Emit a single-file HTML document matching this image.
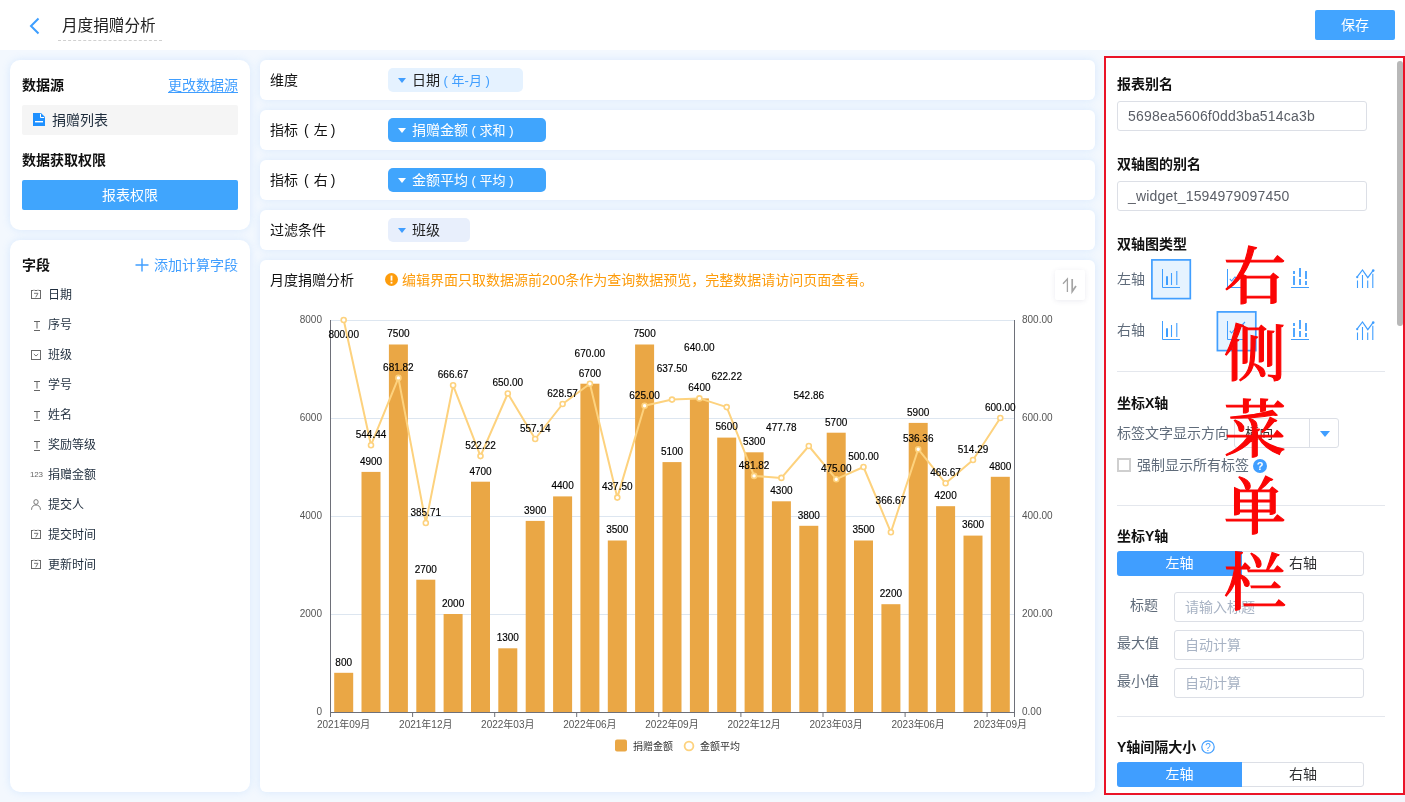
<!DOCTYPE html>
<html lang="zh-CN">
<head>
<meta charset="utf-8">
<title>月度捐赠分析</title>
<style>
*{box-sizing:border-box;margin:0;padding:0}
html,body{width:1405px;height:802px;overflow:hidden}
body{background:#f3f8fe;font-family:"Liberation Sans","Noto Sans CJK SC",sans-serif;font-size:14px;color:#1f2d3d;position:relative}
.abs{position:absolute}
.hdr{position:absolute;left:0;top:0;width:1405px;height:50px;background:#fff}
.card{position:absolute;background:#fff;border-radius:10px;box-shadow:0 0 9px rgba(110,175,250,.2)}
.row{position:absolute;left:260px;width:835px;height:40px;background:#fff;border-radius:6px;box-shadow:0 0 9px rgba(110,175,250,.2)}
.t{position:absolute;white-space:nowrap;line-height:20px;height:20px}
.b{font-weight:700;color:#111}
.blue{color:#409eff}
.tag{position:absolute;height:24px;border-radius:5px;top:8px;left:128px}
.tag .car{position:absolute;left:10px;top:10px;width:0;height:0;border-left:4px solid transparent;border-right:4px solid transparent;border-top:5px solid #409eff}
.tag .tx{position:absolute;left:24px;top:2px;line-height:20px;white-space:nowrap;font-size:14px}
.fld{position:absolute;left:48px;font-size:12px;line-height:20px;color:#1f2d3d;white-space:nowrap}
.ico{position:absolute}
.inp{position:absolute;background:#fff;border:1px solid #dcdfe6;border-radius:3px}
.inp span{position:absolute;left:10px;top:4px;line-height:20px;font-size:14px;letter-spacing:.2px;color:#5a5e66;white-space:nowrap}
.ph span{color:#a8b3c4;font-size:14px;left:10px;letter-spacing:0}
.div{position:absolute;left:1117px;width:268px;height:1px;background:#e4e7ed}
.seg{position:absolute;left:1117px;width:247px;height:25px;border:1px solid #dcdfe6;border-radius:3px;background:#fff}
.seg .l{position:absolute;left:-1px;top:-1px;width:125px;height:25px;background:#409eff;border-radius:3px 0 0 3px;color:#fff;text-align:center;line-height:25px;font-size:14px}
.seg .r{position:absolute;left:124px;top:-1px;width:122px;height:25px;text-align:center;line-height:25px;font-size:14px;color:#303133}
.gl{color:#5f6b7a}
.red{position:absolute;left:1223px;width:64px;text-align:center;font-family:"Liberation Serif","Noto Serif CJK SC",serif;font-weight:500;font-size:62px;line-height:76.5px;color:#fb0505;-webkit-text-stroke:1.1px #fb0505}
</style>
</head>
<body>
<!-- header -->
<div class="hdr">
  <svg class="abs" style="left:28px;top:17px" width="14" height="18" viewBox="0 0 14 18"><path d="M10.5 1.5 L3 9 L10.5 16.5" fill="none" stroke="#3d9eff" stroke-width="2"/></svg>
  <div class="t" style="left:62px;top:16px;font-size:15.6px;color:#222">月度捐赠分析</div>
  <div class="abs" style="left:58px;top:40px;width:104px;border-top:1px dashed #d0d0d0"></div>
  <div class="abs" style="left:1315px;top:10px;width:80px;height:30px;background:#42a4ff;border-radius:2px;color:#fff;text-align:center;line-height:30px;font-size:14px">保存</div>
</div>

<!-- left: datasource -->
<div class="card" style="left:10px;top:60px;width:240px;height:170px"></div>
<div class="t b" style="left:22px;top:75px">数据源</div>
<div class="t blue" style="left:168px;top:75px;text-decoration:underline;text-underline-offset:2px;text-decoration-thickness:1px">更改数据源</div>
<div class="abs" style="left:22px;top:105px;width:216px;height:30px;background:#f5f5f5;border-radius:2px"></div>
<svg class="abs" style="left:33px;top:113px" width="12" height="13" viewBox="0 0 12 13"><path d="M0 0H8L12 4V13H0Z" fill="#1e90ff"/><path d="M7.5 0.8V4.5H11.2" fill="none" stroke="#fff" stroke-width="1"/><rect x="2" y="8" width="8" height="1.4" fill="#fff"/></svg>
<div class="t" style="left:52px;top:110px;color:#1f2d3d">捐赠列表</div>
<div class="t b" style="left:22px;top:150px">数据获取权限</div>
<div class="abs" style="left:22px;top:180px;width:216px;height:30px;background:#40a5fd;border-radius:2px;color:#fff;text-align:center;line-height:30px;font-size:14px">报表权限</div>

<!-- left: fields -->
<div class="card" style="left:10px;top:240px;width:240px;height:552px"></div>
<div class="t b" style="left:22px;top:255px">字段</div>
<svg class="abs" style="left:135px;top:258px" width="14" height="14" viewBox="0 0 14 14"><path d="M7 0.5V13.5M0.5 7H13.5" stroke="#409eff" stroke-width="1.4" fill="none"/></svg>
<div class="t blue" style="left:154px;top:255px">添加计算字段</div>
<svg class="ico" style="left:31px;top:290px;margin-top:-1px" width="10" height="10" viewBox="0 0 10 10"><rect x="0.5" y="1.5" width="9" height="8" fill="none" stroke="#6a6a6a" stroke-width="1"/><path d="M3 0V2.6M7 0V2.6" stroke="#fff" stroke-width="1.4"/><path d="M3 0.5V2M7 0.5V2" stroke="#888" stroke-width="0.8"/><path d="M3 4.3H7L4.7 8.3" fill="none" stroke="#6a6a6a" stroke-width="0.9"/></svg>
<div class="fld" style="top:285px">日期</div>
<svg class="ico" style="left:33px;top:321px" width="8" height="10" viewBox="0 0 8 10"><path d="M1 0.5H7M4 0.5V7.5M1 9.5H7" fill="none" stroke="#666" stroke-width="1"/></svg>
<div class="fld" style="top:315px">序号</div>
<svg class="ico" style="left:31px;top:350px" width="10" height="10" viewBox="0 0 10 10"><rect x="0.5" y="0.5" width="9" height="9" fill="none" stroke="#6a6a6a" stroke-width="1"/><path d="M2.8 4L5 6L7.2 4" fill="none" stroke="#666" stroke-width="0.9"/></svg>
<div class="fld" style="top:345px">班级</div>
<svg class="ico" style="left:33px;top:381px" width="8" height="10" viewBox="0 0 8 10"><path d="M1 0.5H7M4 0.5V7.5M1 9.5H7" fill="none" stroke="#666" stroke-width="1"/></svg>
<div class="fld" style="top:375px">学号</div>
<svg class="ico" style="left:33px;top:411px" width="8" height="10" viewBox="0 0 8 10"><path d="M1 0.5H7M4 0.5V7.5M1 9.5H7" fill="none" stroke="#666" stroke-width="1"/></svg>
<div class="fld" style="top:405px">姓名</div>
<svg class="ico" style="left:33px;top:441px" width="8" height="10" viewBox="0 0 8 10"><path d="M1 0.5H7M4 0.5V7.5M1 9.5H7" fill="none" stroke="#666" stroke-width="1"/></svg>
<div class="fld" style="top:435px">奖励等级</div>
<div class="ico" style="left:30px;top:470px;font-size:8px;line-height:10px;color:#666;letter-spacing:-0.2px">123</div>
<div class="fld" style="top:465px">捐赠金额</div>
<svg class="ico" style="left:31px;top:500px;margin-top:-1px" width="10" height="11" viewBox="0 0 11 11" preserveAspectRatio="none"><circle cx="5.5" cy="3" r="2.4" fill="none" stroke="#666" stroke-width="0.9"/><path d="M0.6 10.8C0.6 7.5 2.8 6 5.5 6S10.4 7.5 10.4 10.8" fill="none" stroke="#666" stroke-width="0.9"/></svg>
<div class="fld" style="top:495px">提交人</div>
<svg class="ico" style="left:31px;top:530px;margin-top:-1px" width="10" height="10" viewBox="0 0 10 10"><rect x="0.5" y="1.5" width="9" height="8" fill="none" stroke="#6a6a6a" stroke-width="1"/><path d="M3 0V2.6M7 0V2.6" stroke="#fff" stroke-width="1.4"/><path d="M3 0.5V2M7 0.5V2" stroke="#888" stroke-width="0.8"/><path d="M3 4.3H7L4.7 8.3" fill="none" stroke="#6a6a6a" stroke-width="0.9"/></svg>
<div class="fld" style="top:525px">提交时间</div>
<svg class="ico" style="left:31px;top:560px;margin-top:-1px" width="10" height="10" viewBox="0 0 10 10"><rect x="0.5" y="1.5" width="9" height="8" fill="none" stroke="#6a6a6a" stroke-width="1"/><path d="M3 0V2.6M7 0V2.6" stroke="#fff" stroke-width="1.4"/><path d="M3 0.5V2M7 0.5V2" stroke="#888" stroke-width="0.8"/><path d="M3 4.3H7L4.7 8.3" fill="none" stroke="#6a6a6a" stroke-width="0.9"/></svg>
<div class="fld" style="top:555px">更新时间</div>

<!-- middle rows -->
<div class="row" style="top:60px"><div class="t" style="left:10px;top:10px;color:#111">维度</div>
  <div class="tag" style="width:135px;background:#e5f2ff"><i class="car"></i><span class="tx" style="color:#222">日期<span style="color:#409eff;font-size:13px"> ( 年-月 )</span></span></div></div>
<div class="row" style="top:110px"><div class="t" style="left:10px;top:10px;color:#111">指标<span style="margin:0 5px 0 6px">(</span>左<span style="margin-left:3px">)</span></div>
  <div class="tag" style="width:158px;background:#40a5fd"><i class="car" style="border-top-color:#fff"></i><span class="tx" style="color:#fff">捐赠金额<span style="font-size:13px"> ( 求和 )</span></span></div></div>
<div class="row" style="top:160px"><div class="t" style="left:10px;top:10px;color:#111">指标<span style="margin:0 5px 0 6px">(</span>右<span style="margin-left:3px">)</span></div>
  <div class="tag" style="width:158px;background:#40a5fd"><i class="car" style="border-top-color:#fff"></i><span class="tx" style="color:#fff">金额平均<span style="font-size:13px"> ( 平均 )</span></span></div></div>
<div class="row" style="top:210px"><div class="t" style="left:10px;top:10px;color:#111">过滤条件</div>
  <div class="tag" style="width:82px;background:#e8effc"><i class="car"></i><span class="tx" style="color:#222">班级</span></div></div>

<!-- chart card -->
<div class="card" style="left:260px;top:260px;width:835px;height:532px;border-radius:6px"></div>
<div class="abs" style="left:260px;top:260px;width:835px;height:532px">
<svg class="chart" width="835" height="532" viewBox="260 260 835 532" font-family="'Liberation Sans','Noto Sans CJK SC',sans-serif">
<line x1="330.0" x2="1014.0" y1="614.5" y2="614.5" stroke="#dde6f0" stroke-width="1"/>
<line x1="330.0" x2="1014.0" y1="516.5" y2="516.5" stroke="#dde6f0" stroke-width="1"/>
<line x1="330.0" x2="1014.0" y1="418.5" y2="418.5" stroke="#dde6f0" stroke-width="1"/>
<line x1="330.0" x2="1014.0" y1="320.5" y2="320.5" stroke="#dde6f0" stroke-width="1"/>
<rect x="334.2" y="672.8" width="19.0" height="39.2" fill="#eaa745"/>
<rect x="361.5" y="471.9" width="19.0" height="240.1" fill="#eaa745"/>
<rect x="388.9" y="344.5" width="19.0" height="367.5" fill="#eaa745"/>
<rect x="416.3" y="579.7" width="19.0" height="132.3" fill="#eaa745"/>
<rect x="443.6" y="614.0" width="19.0" height="98.0" fill="#eaa745"/>
<rect x="471.0" y="481.7" width="19.0" height="230.3" fill="#eaa745"/>
<rect x="498.3" y="648.3" width="19.0" height="63.7" fill="#eaa745"/>
<rect x="525.7" y="520.9" width="19.0" height="191.1" fill="#eaa745"/>
<rect x="553.1" y="496.4" width="19.0" height="215.6" fill="#eaa745"/>
<rect x="580.4" y="383.7" width="19.0" height="328.3" fill="#eaa745"/>
<rect x="607.8" y="540.5" width="19.0" height="171.5" fill="#eaa745"/>
<rect x="635.1" y="344.5" width="19.0" height="367.5" fill="#eaa745"/>
<rect x="662.5" y="462.1" width="19.0" height="249.9" fill="#eaa745"/>
<rect x="689.9" y="398.4" width="19.0" height="313.6" fill="#eaa745"/>
<rect x="717.2" y="437.6" width="19.0" height="274.4" fill="#eaa745"/>
<rect x="744.6" y="452.3" width="19.0" height="259.7" fill="#eaa745"/>
<rect x="771.9" y="501.3" width="19.0" height="210.7" fill="#eaa745"/>
<rect x="799.3" y="525.8" width="19.0" height="186.2" fill="#eaa745"/>
<rect x="826.7" y="432.7" width="19.0" height="279.3" fill="#eaa745"/>
<rect x="854.0" y="540.5" width="19.0" height="171.5" fill="#eaa745"/>
<rect x="881.4" y="604.2" width="19.0" height="107.8" fill="#eaa745"/>
<rect x="908.7" y="422.9" width="19.0" height="289.1" fill="#eaa745"/>
<rect x="936.1" y="506.2" width="19.0" height="205.8" fill="#eaa745"/>
<rect x="963.5" y="535.6" width="19.0" height="176.4" fill="#eaa745"/>
<rect x="990.8" y="476.8" width="19.0" height="235.2" fill="#eaa745"/>
<line x1="330.5" x2="330.5" y1="320.0" y2="713.0" stroke="#6e7079" stroke-width="1"/>
<line x1="1014.5" x2="1014.5" y1="320.0" y2="713.0" stroke="#6e7079" stroke-width="1"/>
<line x1="330.0" x2="1015.0" y1="712.5" y2="712.5" stroke="#6e7079" stroke-width="1"/>
<line x1="330.5" x2="330.5" y1="712.0" y2="717.0" stroke="#6e7079" stroke-width="1"/>
<line x1="412.6" x2="412.6" y1="712.0" y2="717.0" stroke="#6e7079" stroke-width="1"/>
<line x1="494.7" x2="494.7" y1="712.0" y2="717.0" stroke="#6e7079" stroke-width="1"/>
<line x1="576.7" x2="576.7" y1="712.0" y2="717.0" stroke="#6e7079" stroke-width="1"/>
<line x1="658.8" x2="658.8" y1="712.0" y2="717.0" stroke="#6e7079" stroke-width="1"/>
<line x1="740.9" x2="740.9" y1="712.0" y2="717.0" stroke="#6e7079" stroke-width="1"/>
<line x1="823.0" x2="823.0" y1="712.0" y2="717.0" stroke="#6e7079" stroke-width="1"/>
<line x1="905.1" x2="905.1" y1="712.0" y2="717.0" stroke="#6e7079" stroke-width="1"/>
<line x1="987.1" x2="987.1" y1="712.0" y2="717.0" stroke="#6e7079" stroke-width="1"/>
<line x1="1014.5" x2="1014.5" y1="712.0" y2="717.0" stroke="#6e7079" stroke-width="1"/>
<polyline points="343.7,320.0 371.0,445.2 398.4,377.9 425.8,523.0 453.1,385.3 480.5,456.1 507.8,393.5 535.2,439.0 562.6,404.0 589.9,383.7 617.3,497.6 644.6,405.8 672.0,399.6 699.4,398.4 726.7,407.1 754.1,475.9 781.4,477.9 808.8,446.0 836.2,479.2 863.5,467.0 890.9,532.3 918.2,449.2 945.6,483.3 973.0,460.0 1000.3,418.0" fill="none" stroke="#fdd27e" stroke-width="2" stroke-linejoin="round"/>
<circle cx="343.7" cy="320.0" r="2.5" fill="#fff" stroke="#fdd27e" stroke-width="1.6"/>
<circle cx="371.0" cy="445.2" r="2.5" fill="#fff" stroke="#fdd27e" stroke-width="1.6"/>
<circle cx="398.4" cy="377.9" r="2.5" fill="#fff" stroke="#fdd27e" stroke-width="1.6"/>
<circle cx="425.8" cy="523.0" r="2.5" fill="#fff" stroke="#fdd27e" stroke-width="1.6"/>
<circle cx="453.1" cy="385.3" r="2.5" fill="#fff" stroke="#fdd27e" stroke-width="1.6"/>
<circle cx="480.5" cy="456.1" r="2.5" fill="#fff" stroke="#fdd27e" stroke-width="1.6"/>
<circle cx="507.8" cy="393.5" r="2.5" fill="#fff" stroke="#fdd27e" stroke-width="1.6"/>
<circle cx="535.2" cy="439.0" r="2.5" fill="#fff" stroke="#fdd27e" stroke-width="1.6"/>
<circle cx="562.6" cy="404.0" r="2.5" fill="#fff" stroke="#fdd27e" stroke-width="1.6"/>
<circle cx="589.9" cy="383.7" r="2.5" fill="#fff" stroke="#fdd27e" stroke-width="1.6"/>
<circle cx="617.3" cy="497.6" r="2.5" fill="#fff" stroke="#fdd27e" stroke-width="1.6"/>
<circle cx="644.6" cy="405.8" r="2.5" fill="#fff" stroke="#fdd27e" stroke-width="1.6"/>
<circle cx="672.0" cy="399.6" r="2.5" fill="#fff" stroke="#fdd27e" stroke-width="1.6"/>
<circle cx="699.4" cy="398.4" r="2.5" fill="#fff" stroke="#fdd27e" stroke-width="1.6"/>
<circle cx="726.7" cy="407.1" r="2.5" fill="#fff" stroke="#fdd27e" stroke-width="1.6"/>
<circle cx="754.1" cy="475.9" r="2.5" fill="#fff" stroke="#fdd27e" stroke-width="1.6"/>
<circle cx="781.4" cy="477.9" r="2.5" fill="#fff" stroke="#fdd27e" stroke-width="1.6"/>
<circle cx="808.8" cy="446.0" r="2.5" fill="#fff" stroke="#fdd27e" stroke-width="1.6"/>
<circle cx="836.2" cy="479.2" r="2.5" fill="#fff" stroke="#fdd27e" stroke-width="1.6"/>
<circle cx="863.5" cy="467.0" r="2.5" fill="#fff" stroke="#fdd27e" stroke-width="1.6"/>
<circle cx="890.9" cy="532.3" r="2.5" fill="#fff" stroke="#fdd27e" stroke-width="1.6"/>
<circle cx="918.2" cy="449.2" r="2.5" fill="#fff" stroke="#fdd27e" stroke-width="1.6"/>
<circle cx="945.6" cy="483.3" r="2.5" fill="#fff" stroke="#fdd27e" stroke-width="1.6"/>
<circle cx="973.0" cy="460.0" r="2.5" fill="#fff" stroke="#fdd27e" stroke-width="1.6"/>
<circle cx="1000.3" cy="418.0" r="2.5" fill="#fff" stroke="#fdd27e" stroke-width="1.6"/>
<g font-size="10" fill="#555">
<text x="322.0" y="715.1" text-anchor="end">0</text>
<text x="1022.0" y="715.1">0.00</text>
<text x="322.0" y="617.1" text-anchor="end">2000</text>
<text x="1022.0" y="617.1">200.00</text>
<text x="322.0" y="519.1" text-anchor="end">4000</text>
<text x="1022.0" y="519.1">400.00</text>
<text x="322.0" y="421.1" text-anchor="end">6000</text>
<text x="1022.0" y="421.1">600.00</text>
<text x="322.0" y="323.1" text-anchor="end">8000</text>
<text x="1022.0" y="323.1">800.00</text>
<text x="343.7" y="728.0" text-anchor="middle">2021年09月</text>
<text x="425.8" y="728.0" text-anchor="middle">2021年12月</text>
<text x="507.8" y="728.0" text-anchor="middle">2022年03月</text>
<text x="589.9" y="728.0" text-anchor="middle">2022年06月</text>
<text x="672.0" y="728.0" text-anchor="middle">2022年09月</text>
<text x="754.1" y="728.0" text-anchor="middle">2022年12月</text>
<text x="836.2" y="728.0" text-anchor="middle">2023年03月</text>
<text x="918.2" y="728.0" text-anchor="middle">2023年06月</text>
<text x="1000.3" y="728.0" text-anchor="middle">2023年09月</text>
</g>
<g font-size="10" fill="#000" stroke="#000" stroke-width="0.15" text-anchor="middle">
<text x="343.7" y="665.6">800</text>
<text x="371.0" y="464.7">4900</text>
<text x="398.4" y="337.3">7500</text>
<text x="425.8" y="572.5">2700</text>
<text x="453.1" y="606.8">2000</text>
<text x="480.5" y="474.5">4700</text>
<text x="507.8" y="641.1">1300</text>
<text x="535.2" y="513.7">3900</text>
<text x="562.6" y="489.2">4400</text>
<text x="589.9" y="376.5">6700</text>
<text x="617.3" y="533.3">3500</text>
<text x="644.6" y="337.3">7500</text>
<text x="672.0" y="454.9">5100</text>
<text x="699.4" y="391.2">6400</text>
<text x="726.7" y="430.4">5600</text>
<text x="754.1" y="445.1">5300</text>
<text x="781.4" y="494.1">4300</text>
<text x="808.8" y="518.6">3800</text>
<text x="836.2" y="425.5">5700</text>
<text x="863.5" y="533.3">3500</text>
<text x="890.9" y="597.0">2200</text>
<text x="918.2" y="415.7">5900</text>
<text x="945.6" y="499.0">4200</text>
<text x="973.0" y="528.4">3600</text>
<text x="1000.3" y="469.6">4800</text>
<text x="343.7" y="337.8">800.00</text>
<text x="371.0" y="438.0">544.44</text>
<text x="398.4" y="370.7">681.82</text>
<text x="425.8" y="515.8">385.71</text>
<text x="453.1" y="378.1">666.67</text>
<text x="480.5" y="448.9">522.22</text>
<text x="507.8" y="386.3">650.00</text>
<text x="535.2" y="431.8">557.14</text>
<text x="562.6" y="396.8">628.57</text>
<text x="589.9" y="356.5">670.00</text>
<text x="617.3" y="490.4">437.50</text>
<text x="644.6" y="398.6">625.00</text>
<text x="672.0" y="372.4">637.50</text>
<text x="699.4" y="351.2">640.00</text>
<text x="726.7" y="379.9">622.22</text>
<text x="754.1" y="468.7">481.82</text>
<text x="781.4" y="430.7">477.78</text>
<text x="808.8" y="398.8">542.86</text>
<text x="836.2" y="472.1">475.00</text>
<text x="863.5" y="459.8">500.00</text>
<text x="890.9" y="504.1">366.67</text>
<text x="918.2" y="442.0">536.36</text>
<text x="945.6" y="476.1">466.67</text>
<text x="973.0" y="452.8">514.29</text>
<text x="1000.3" y="410.8">600.00</text>
</g>
<rect x="615" y="739.5" width="12" height="12" rx="2" fill="#eaa745"/>
<text x="633" y="749.5" font-size="10" fill="#333">捐赠金额</text>
<circle cx="689" cy="746" r="4.4" fill="#fff" stroke="#fdd27e" stroke-width="1.8"/>
<text x="700" y="749.5" font-size="10" fill="#333">金额平均</text>
</svg>
</div>
<div class="t" style="left:270px;top:270px;color:#111">月度捐赠分析</div>
<svg class="abs" style="left:385px;top:273px" width="13" height="13" viewBox="0 0 13 13"><circle cx="6.5" cy="6.5" r="6.5" fill="#fd9c0c"/><rect x="5.6" y="2.6" width="1.8" height="5" fill="#fff"/><rect x="5.6" y="8.8" width="1.8" height="1.8" fill="#fff"/></svg>
<div class="t" style="left:402px;top:270px;color:#fd9c0c">编辑界面只取数据源前200条作为查询数据预览，完整数据请访问页面查看。</div>
<div class="abs" style="left:1055px;top:270px;width:30px;height:30px;background:#fff;border-radius:2px;box-shadow:0 1px 5px rgba(90,90,140,.12)"></div>
<svg class="abs" style="left:1055px;top:270px" width="30" height="30" viewBox="0 0 30 30"><path d="M12.4 22V9L8 13.8" fill="none" stroke="#a4a4a4" stroke-width="1.3"/><path d="M17.2 9V21.6L21 16" fill="none" stroke="#a4a4a4" stroke-width="1.7"/></svg>

<!-- right panel -->
<div class="abs" style="left:1104px;top:56px;width:301px;height:739px;background:#fff;border:2px solid #ea1428"></div>
<div class="abs" style="left:1397px;top:61px;width:6px;height:265px;background:#b8b8b8;border-radius:3px"></div>
<div class="t b" style="left:1117px;top:74px">报表别名</div>
<div class="inp" style="left:1117px;top:101px;width:250px;height:30px"><span>5698ea5606f0dd3ba514ca3b</span></div>
<div class="t b" style="left:1117px;top:154px">双轴图的别名</div>
<div class="inp" style="left:1117px;top:181px;width:250px;height:30px"><span>_widget_1594979097450</span></div>
<div class="t b" style="left:1117px;top:234px">双轴图类型</div>
<div class="t gl" style="left:1117px;top:269px">左轴</div>
<div class="t gl" style="left:1117px;top:320px">右轴</div>
<svg class="abs" style="left:1150px;top:258px" width="42" height="42"><rect x="1.9" y="1.9" width="38.4" height="38.7" fill="#e6f3ff" stroke="#409eff" stroke-width="1.7"/></svg>
<svg class="abs" style="left:1215px;top:310px" width="42" height="42"><rect x="2.4" y="1.9" width="38.4" height="38.7" fill="#e6f3ff" stroke="#409eff" stroke-width="1.7"/></svg>
<svg class="abs" style="left:1161px;top:269px;overflow:visible" width="20" height="20" viewBox="0 0 20 20"><path d="M1.5 0V18.5H19" fill="none" stroke="#3f9eff" stroke-width="1"/><path d="M6 16V7.3" stroke="#3f9eff" stroke-width="2" fill="none"/><path d="M10.5 16V4M15.8 16V2" stroke="#3f9eff" stroke-width="1.1" fill="none"/></svg>
<svg class="abs" style="left:1226px;top:269px;overflow:visible" width="20" height="20" viewBox="0 0 20 20"><path d="M1.5 0V18.5H19" fill="none" stroke="#3f9eff" stroke-width="1"/><path d="M3.8 9.8L5.6 12L9 8L11 9.5L19 1" stroke="#3f9eff" stroke-width="1.1" fill="none"/></svg>
<svg class="abs" style="left:1291px;top:269px;overflow:visible" width="20" height="20" viewBox="0 0 20 20"><path d="M0 18.5H18" fill="none" stroke="#3f9eff" stroke-width="1"/><path d="M3 16V7M3 5V2M9 16V10M9 8V-1M15 16V12M15 10V2" stroke="#3f9eff" stroke-width="1.8" fill="none"/></svg>
<svg class="abs" style="left:1356px;top:269px;overflow:visible" width="20" height="20" viewBox="0 0 20 20"><path d="M1.5 19V11.6M6.5 19V6M11.7 19V11.6M16.8 19V4.8" stroke="#3f9eff" stroke-width="1.1" fill="none"/><path d="M1 8.2L6.5 1L11.8 8.6L17 1.6" stroke="#3f9eff" stroke-width="1.2" fill="none"/><circle cx="1.2" cy="8.2" r="1.1" fill="#3f9eff"/><circle cx="17.2" cy="1.6" r="1.3" fill="#3f9eff"/></svg>
<svg class="abs" style="left:1161px;top:321px;overflow:visible" width="20" height="20" viewBox="0 0 20 20"><path d="M1.5 0V18.5H19" fill="none" stroke="#3f9eff" stroke-width="1"/><path d="M6 16V7.3" stroke="#3f9eff" stroke-width="2" fill="none"/><path d="M10.5 16V4M15.8 16V2" stroke="#3f9eff" stroke-width="1.1" fill="none"/></svg>
<svg class="abs" style="left:1226px;top:321px;overflow:visible" width="20" height="20" viewBox="0 0 20 20"><path d="M1.5 0V18.5H19" fill="none" stroke="#3f9eff" stroke-width="1"/><path d="M3.8 9.8L5.6 12L9 8L11 9.5L19 1" stroke="#3f9eff" stroke-width="1.1" fill="none"/></svg>
<svg class="abs" style="left:1291px;top:321px;overflow:visible" width="20" height="20" viewBox="0 0 20 20"><path d="M0 18.5H18" fill="none" stroke="#3f9eff" stroke-width="1"/><path d="M3 16V7M3 5V2M9 16V10M9 8V-1M15 16V12M15 10V2" stroke="#3f9eff" stroke-width="1.8" fill="none"/></svg>
<svg class="abs" style="left:1356px;top:321px;overflow:visible" width="20" height="20" viewBox="0 0 20 20"><path d="M1.5 19V11.6M6.5 19V6M11.7 19V11.6M16.8 19V4.8" stroke="#3f9eff" stroke-width="1.1" fill="none"/><path d="M1 8.2L6.5 1L11.8 8.6L17 1.6" stroke="#3f9eff" stroke-width="1.2" fill="none"/><circle cx="1.2" cy="8.2" r="1.1" fill="#3f9eff"/><circle cx="17.2" cy="1.6" r="1.3" fill="#3f9eff"/></svg>
<div class="div" style="top:371px"></div>
<div class="t b" style="left:1117px;top:393px">坐标X轴</div>
<div class="t gl" style="left:1117px;top:423px">标签文字显示方向</div>
<div class="inp" style="left:1234px;top:418px;width:105px;height:30px"><span style="font-size:14px;left:10px;color:#333">横向</span><i class="abs" style="left:74px;top:0;width:1px;height:28px;background:#dcdfe6"></i><i class="abs" style="left:85px;top:12px;width:0;height:0;border-left:5px solid transparent;border-right:5px solid transparent;border-top:6px solid #409eff"></i></div>
<div class="abs" style="left:1117px;top:458px;width:14px;height:14px;border:2px solid #cfcfcf;background:#fff"></div>
<div class="t gl" style="left:1137px;top:455px">强制显示所有标签</div>
<svg class="abs" style="left:1253px;top:459px" width="14" height="14" viewBox="0 0 14 14"><circle cx="7" cy="7" r="7" fill="#409eff"/><text x="7" y="11" font-size="11" font-weight="700" fill="#fff" text-anchor="middle" font-family="'Liberation Sans',sans-serif">?</text></svg>
<div class="div" style="top:505px"></div>
<div class="t b" style="left:1117px;top:526px">坐标Y轴</div>
<div class="seg" style="top:551px"><div class="l">左轴</div><div class="r">右轴</div></div>
<div class="t gl" style="left:1130px;top:595px">标题</div>
<div class="inp ph" style="left:1174px;top:592px;width:190px;height:30px"><span>请输入标题</span></div>
<div class="t gl" style="left:1117px;top:633px">最大值</div>
<div class="inp ph" style="left:1174px;top:630px;width:190px;height:30px"><span>自动计算</span></div>
<div class="t gl" style="left:1117px;top:671px">最小值</div>
<div class="inp ph" style="left:1174px;top:668px;width:190px;height:30px"><span>自动计算</span></div>
<div class="div" style="top:716px"></div>
<div class="t b" style="left:1117px;top:737px">Y轴间隔大小</div>
<svg class="abs" style="left:1201px;top:740px" width="14" height="14" viewBox="0 0 14 14"><circle cx="7" cy="7" r="6.2" fill="#fff" stroke="#409eff" stroke-width="1.2"/><text x="7" y="10.5" font-size="10" fill="#409eff" text-anchor="middle" font-family="'Liberation Sans',sans-serif">?</text></svg>
<div class="seg" style="top:762px"><div class="l">左轴</div><div class="r">右轴</div></div>

<!-- red annotation -->
<div class="red" style="top:240px">右<br>侧<br>菜<br>单<br>栏</div>
</body>
</html>
